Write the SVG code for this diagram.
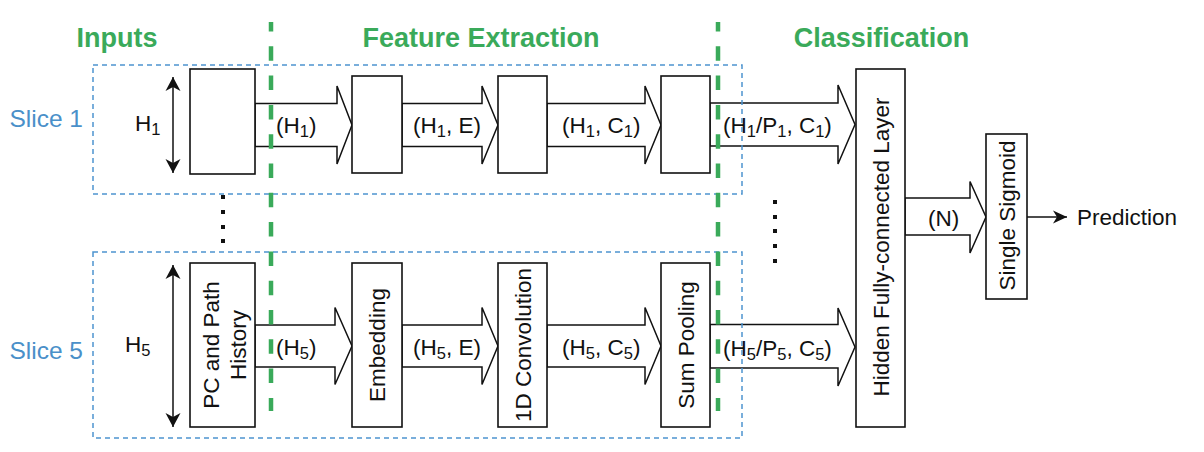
<svg xmlns="http://www.w3.org/2000/svg" width="1204" height="452" viewBox="0 0 1204 452">
<defs>
<style>
.t{font-family:"Liberation Sans",Arial,sans-serif;font-size:22.5px;fill:#111}
.title{font-family:"Liberation Sans",Arial,sans-serif;font-size:27px;font-weight:bold;fill:#3aaa5a}
.slice{font-family:"Liberation Sans",Arial,sans-serif;font-size:24.5px;fill:#4a90c9}
.box{fill:#fff;stroke:#111;stroke-width:1.6}
.fat{fill:#fff;stroke:#111;stroke-width:1.5;stroke-linejoin:miter}
.sb{fill:none;stroke:#4d94cf;stroke-width:1.5;stroke-dasharray:5 4}
.gl{stroke:#3aaa5a;stroke-width:4.5;stroke-dasharray:14.5 14.8;stroke-dashoffset:5}
.ln{stroke:#111;stroke-width:1.5;fill:none}
.dot{fill:#111}
</style>
<marker id="ah" markerUnits="userSpaceOnUse" markerWidth="20" markerHeight="20" viewBox="-16 -10 20 20" refX="0" refY="0" orient="auto-start-reverse">
<path d="M0,0 L-14,-7.5 L-10,0 L-14,7.5 z" fill="#111"/>
</marker>
<marker id="ah2" markerUnits="userSpaceOnUse" markerWidth="20" markerHeight="20" viewBox="-16 -10 20 20" refX="0" refY="0" orient="auto">
<path d="M0,0 L-14,-6.5 L-10,0 L-14,6.5 z" fill="#111"/>
</marker>
</defs>

<g id="titles">
<text class="title" x="117" y="47" text-anchor="middle">Inputs</text>
<text class="title" x="481" y="47" text-anchor="middle">Feature Extraction</text>
<text class="title" x="881.5" y="47" text-anchor="middle">Classification</text>
</g>

<g id="connectors">
<!-- slice 1 fat arrows -->
<polygon class="fat" points="255,103.5 337,103.5 337,86 352,125 337,164 337,146.5 255,146.5"/>
<polygon class="fat" points="402,103.5 482,103.5 482,86 498,125 482,164 482,146.5 402,146.5"/>
<polygon class="fat" points="547,103.5 645,103.5 645,86 661,125 645,164 645,146.5 547,146.5"/>
<polygon class="fat" points="710,103 838,103 838,85 855,124.5 838,164 838,146 710,146"/>
<!-- slice 5 fat arrows -->
<polygon class="fat" points="255,325 335,325 335,307.5 352,346 335,384.5 335,367 255,367"/>
<polygon class="fat" points="402,325 482,325 482,307.5 498,346 482,384.5 482,367 402,367"/>
<polygon class="fat" points="547,325 645,325 645,307.5 661,346 645,384.5 645,367 547,367"/>
<polygon class="fat" points="710,324.5 838,324.5 838,308 855,347 838,386 838,368 710,368"/>
<!-- N arrow -->
<polygon class="fat" points="905,198 970,198 970,181.5 986,217 970,253 970,235 905,235"/>
<!-- labels -->
<text class="t" x="276" y="133">(H<tspan font-size="16.5" dy="4">1</tspan><tspan dy="-4">)</tspan></text>
<text class="t" x="413" y="133">(H<tspan font-size="16.5" dy="4">1</tspan><tspan dy="-4">, E)</tspan></text>
<text class="t" x="562" y="133">(H<tspan font-size="16.5" dy="4">1</tspan><tspan dy="-4">, C</tspan><tspan font-size="16.5" dy="4">1</tspan><tspan dy="-4">)</tspan></text>
<text class="t" x="723" y="133">(H<tspan font-size="16.5" dy="4">1</tspan><tspan dy="-4">/P</tspan><tspan font-size="16.5" dy="4">1</tspan><tspan dy="-4">, C</tspan><tspan font-size="16.5" dy="4">1</tspan><tspan dy="-4">)</tspan></text>
<text class="t" x="276" y="355">(H<tspan font-size="16.5" dy="4">5</tspan><tspan dy="-4">)</tspan></text>
<text class="t" x="413" y="355">(H<tspan font-size="16.5" dy="4">5</tspan><tspan dy="-4">, E)</tspan></text>
<text class="t" x="562" y="355">(H<tspan font-size="16.5" dy="4">5</tspan><tspan dy="-4">, C</tspan><tspan font-size="16.5" dy="4">5</tspan><tspan dy="-4">)</tspan></text>
<text class="t" x="723" y="356">(H<tspan font-size="16.5" dy="4">5</tspan><tspan dy="-4">/P</tspan><tspan font-size="16.5" dy="4">5</tspan><tspan dy="-4">, C</tspan><tspan font-size="16.5" dy="4">5</tspan><tspan dy="-4">)</tspan></text>
<text class="t" x="928" y="226">(N)</text>
<!-- double arrows -->
<line class="ln" x1="173" y1="77" x2="173" y2="173" marker-start="url(#ah)" marker-end="url(#ah)"/>
<line class="ln" x1="173" y1="265" x2="173" y2="427" marker-start="url(#ah)" marker-end="url(#ah)"/>
<!-- prediction arrow -->
<line class="ln" x1="1027" y1="217" x2="1067" y2="217" marker-end="url(#ah2)"/>
</g>

<g id="h-labels">
<text class="t" x="135" y="131">H<tspan font-size="16.5" dy="4">1</tspan></text>
<text class="t" x="125" y="352">H<tspan font-size="16.5" dy="4">5</tspan></text>
</g>

<g id="input1"><rect class="box" x="190" y="69" width="65" height="105"/></g>
<g id="embed1"><rect class="box" x="352" y="76" width="50" height="97"/></g>
<g id="conv1"><rect class="box" x="498" y="76" width="49" height="97"/></g>
<g id="pool1"><rect class="box" x="661" y="76" width="49" height="97"/></g>

<g id="input5">
<rect class="box" x="190" y="263" width="65" height="164"/>
<g transform="translate(222.5,345) rotate(-90)">
<text class="t" x="0" y="-3.5" text-anchor="middle">PC and Path</text>
<text class="t" x="0" y="23.5" text-anchor="middle">History</text>
</g>
</g>
<g id="embed5">
<rect class="box" x="352" y="263" width="50" height="164"/>
<text class="t" transform="translate(377,345) rotate(-90)" x="0" y="8" text-anchor="middle">Embedding</text>
</g>
<g id="conv5">
<rect class="box" x="498" y="263" width="49" height="164"/>
<text class="t" transform="translate(522.5,345) rotate(-90)" x="0" y="8" text-anchor="middle">1D Convolution</text>
</g>
<g id="pool5">
<rect class="box" x="661" y="263" width="49" height="164"/>
<text class="t" transform="translate(685.5,345) rotate(-90)" x="0" y="8" text-anchor="middle">Sum Pooling</text>
</g>
<g id="fc">
<rect class="box" x="856" y="69" width="49" height="358"/>
<text class="t" transform="translate(880.5,247) rotate(-90)" x="0" y="8" text-anchor="middle">Hidden Fully-connected Layer</text>
</g>
<g id="sigmoid">
<rect class="box" x="986" y="134" width="41" height="165"/>
<text class="t" transform="translate(1006.5,215.5) rotate(-90)" x="0" y="8" text-anchor="middle">Single Sigmoid</text>
</g>
<g id="prediction">
<text class="t" x="1077" y="225">Prediction</text>
</g>

<g id="slices">
<rect class="sb" x="93" y="65" width="649" height="129"/>
<rect class="sb" x="93" y="252" width="649" height="186"/>
<text class="slice" x="83" y="127" text-anchor="end">Slice 1</text>
<text class="slice" x="83" y="359" text-anchor="end">Slice 5</text>
</g>

<g id="dots">
<rect class="dot" x="221" y="195" width="4" height="4"/>
<rect class="dot" x="221" y="210" width="4" height="4"/>
<rect class="dot" x="221" y="225" width="4" height="4"/>
<rect class="dot" x="221" y="239" width="4" height="4"/>
<rect class="dot" x="773" y="200" width="4" height="4"/>
<rect class="dot" x="773" y="215" width="4" height="4"/>
<rect class="dot" x="773" y="229" width="4" height="4"/>
<rect class="dot" x="773" y="244" width="4" height="4"/>
<rect class="dot" x="773" y="259" width="4" height="4"/>
</g>

<g id="dividers">
<line class="gl" x1="271" y1="22" x2="271" y2="411"/>
<line class="gl" x1="718" y1="22" x2="718" y2="411"/>
</g>
</svg>
